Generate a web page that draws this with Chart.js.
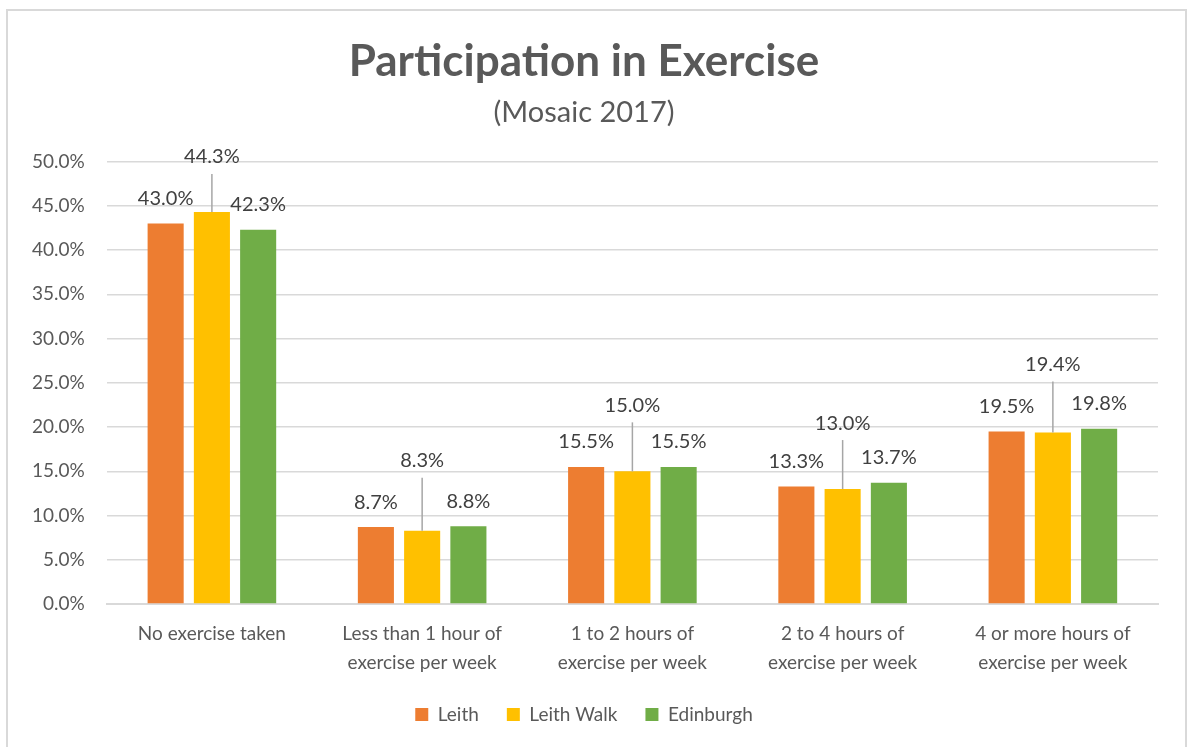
<!DOCTYPE html>
<html>
<head>
<meta charset="utf-8">
<script src="https://cdn.jsdelivr.net/npm/chart.js@4.4.0/dist/chart.umd.min.js"></script>
<style>
    body { margin: 0; background: #fff; overflow: hidden; }
    #frame {
        position: absolute;
        left: 6px; top: 9px;
        width: 1177px; height: 746px;
        border: 2px solid #d9d9d9;
        background: #fff;
    }
    #chart { display: block; }
</style>
</head>
<body>
<div id="frame"><canvas id="chart" width="1177" height="746"></canvas></div>
<script>
// Participation in Exercise (Mosaic 2017)

const categories = [
    'No exercise taken',
    ['Less than 1 hour of', 'exercise per week'],
    ['1 to 2 hours of', 'exercise per week'],
    ['2 to 4 hours of', 'exercise per week'],
    ['4 or more hours of', 'exercise per week']
];
const leith = [43.0, 8.7, 15.5, 13.3, 19.5];
const leithWalk = [44.3, 8.3, 15.0, 13.0, 19.4];
const edinburgh = [42.3, 8.8, 15.5, 13.7, 19.8];
const yTicks = [0, 5, 10, 15, 20, 25, 30, 35, 40, 45, 50];

const FONT = 'Lato, "Open Sans", sans-serif';
const GREY = '#595959';

// draws value labels; the middle series gets lifted labels with a leader line
const valueLabels = {
    id: 'valueLabels',
    afterDatasetsDraw(chart, args, opts) {
        const ctx = chart.ctx;
        ctx.save();
        ctx.font = `${opts.size}px ${FONT}`;
        ctx.fillStyle = opts.color;
        ctx.textAlign = 'center';
        ctx.textBaseline = 'middle';
        chart.data.datasets.forEach((ds, di) => {
            const meta = chart.getDatasetMeta(di);
            meta.data.forEach((bar, i) => {
                const text = ds.data[i].toFixed(1) + '%';
                if (di === opts.liftedSeries) {
                    const ly = bar.y - opts.lift[i];
                    ctx.strokeStyle = opts.lineColor;
                    ctx.lineWidth = 1.5;
                    ctx.beginPath();
                    ctx.moveTo(bar.x, bar.y);
                    ctx.lineTo(bar.x, ly + opts.lineGap);
                    ctx.stroke();
                    ctx.fillText(text, bar.x, ly);
                } else {
                    ctx.fillText(text, bar.x, bar.y - opts.offset);
                }
            });
        });
        ctx.restore();
    }
};

new Chart(document.getElementById('chart'), {
    type: 'bar',
    data: {
        labels: categories,
        datasets: [
            { label: 'Leith', data: leith, backgroundColor: '#ED7D31' },
            { label: 'Leith Walk', data: leithWalk, backgroundColor: '#FFC000' },
            { label: 'Edinburgh', data: edinburgh, backgroundColor: '#70AD47' }
        ]
    },
    options: {
        responsive: false,
        animation: false,
        layout: { padding: { top: 0, left: 2, right: 27, bottom: 23 } },
        datasets: {
            bar: { categoryPercentage: 0.66, barPercentage: 0.78 }
        },
        scales: {
            x: {
                grid: { display: false },
                border: { color: '#d9d9d9', width: 2 },
                ticks: {
                    color: GREY,
                    font: { family: FONT, size: 19, lineHeight: 1.55 },
                    padding: 7,
                    maxRotation: 0
                },
                afterFit: axis => { axis.height -= 8; }
            },
            y: {
                min: 0,
                max: 50,
                afterBuildTicks: axis => { axis.ticks = yTicks.map(v => ({ value: v })); },
                grid: { color: '#d9d9d9', lineWidth: 1.5, drawTicks: false },
                border: { display: false },
                ticks: {
                    color: GREY,
                    font: { family: FONT, size: 19 },
                    padding: 22,
                    callback: v => v.toFixed(1) + '%'
                }
            }
        },
        plugins: {
            title: {
                display: true,
                text: 'Participation in Exercise',
                color: GREY,
                font: { family: FONT, size: 44, weight: 'bold' },
                padding: { top: 24, bottom: 4 }
            },
            subtitle: {
                display: true,
                text: '(Mosaic 2017)',
                color: GREY,
                font: { family: FONT, size: 29 },
                padding: { top: 3, bottom: 32 }
            },
            legend: {
                position: 'bottom',
                labels: {
                    color: GREY,
                    font: { family: FONT, size: 19 },
                    boxWidth: 13,
                    boxHeight: 13,
                    padding: 28
                }
            },
            tooltip: { enabled: false },
            valueLabels: {
                size: 20,
                color: '#404040',
                offset: 25,
                liftedSeries: 1,
                lift: [55, 70, 66, 66, 68],
                lineGap: 17,
                lineColor: '#a6a6a6'
            }
        }
    },
    plugins: [valueLabels]
});
</script>
</body>
</html>
